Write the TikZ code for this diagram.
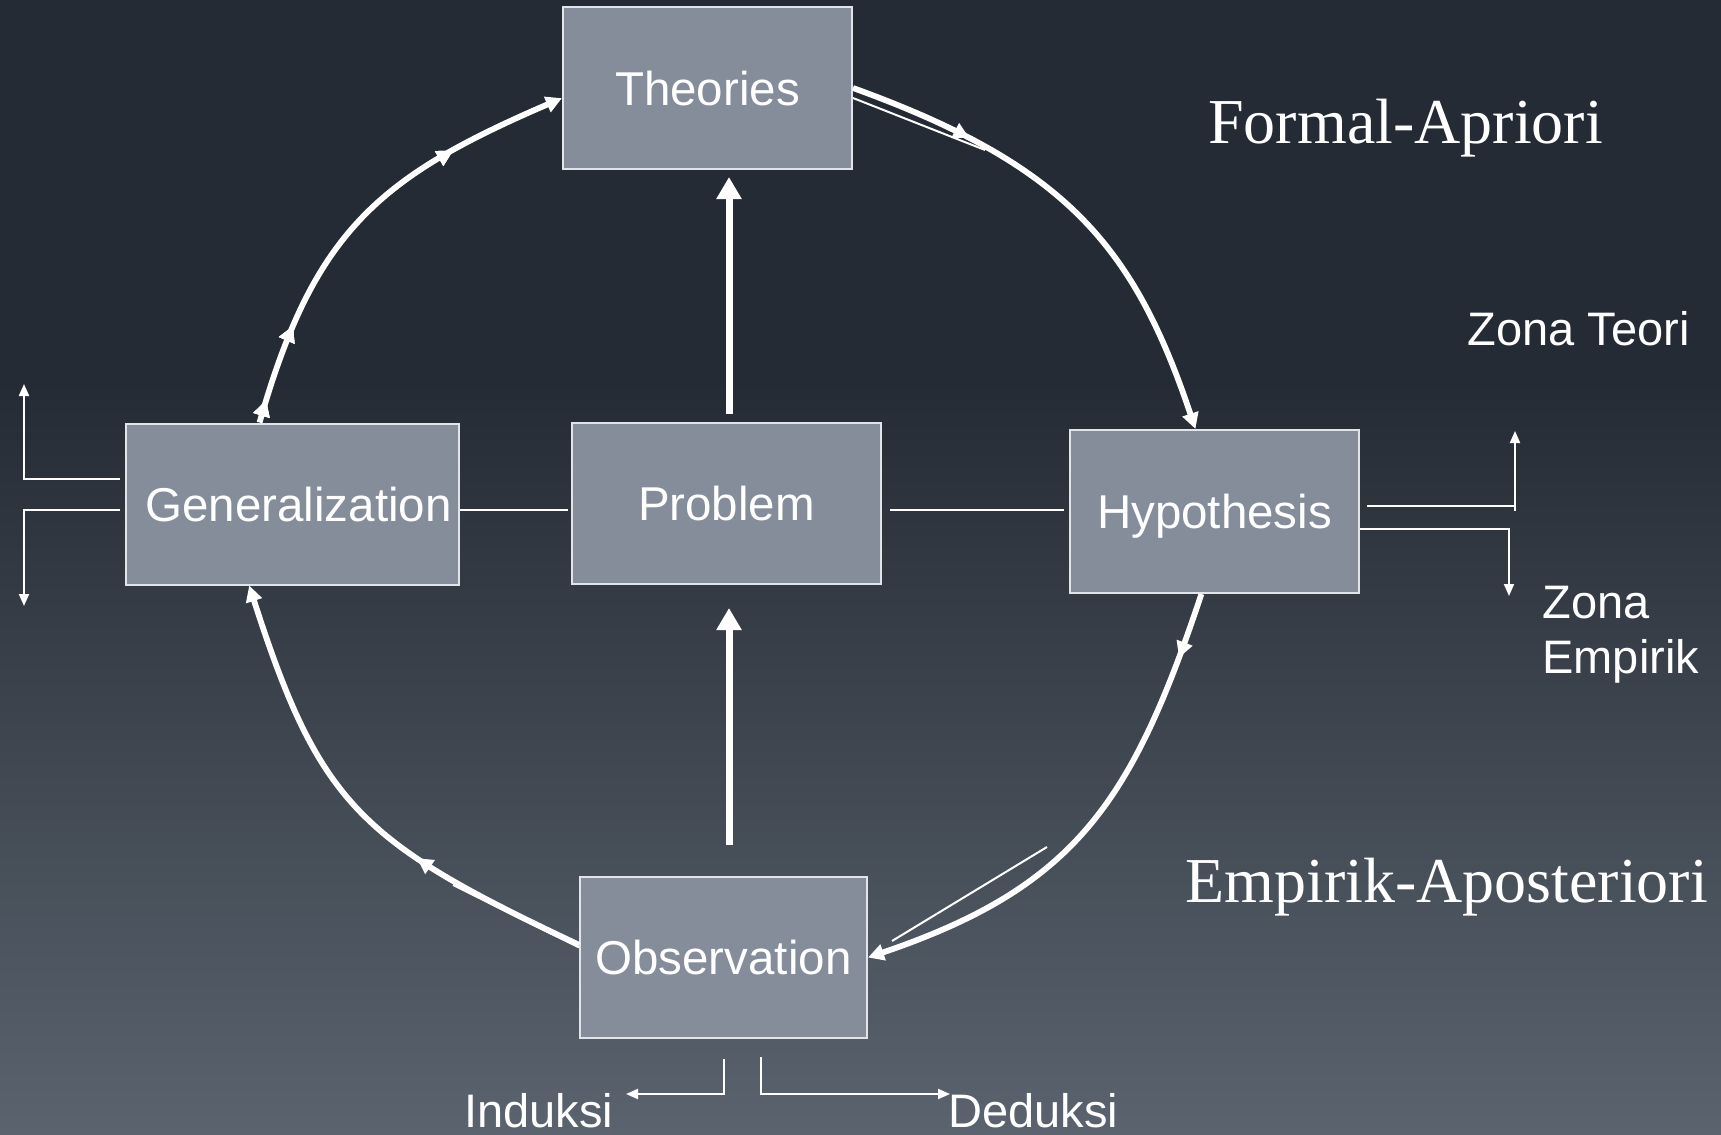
\documentclass[tikz,border=0pt]{standalone}
\usepackage{fontspec}
\setmainfont{Liberation Serif}
\newfontfamily\arialish{Liberation Sans}
\usetikzlibrary{arrows.meta,decorations.markings,calc}

\definecolor{bgtop}{RGB}{37,43,52}
\definecolor{bgbot}{RGB}{90,99,110}
\definecolor{boxfill}{RGB}{133,141,154}
\definecolor{boxline}{RGB}{225,228,233}

\begin{document}
\begin{tikzpicture}[x=0.5pt,y=-0.5pt,
  stagebox/.style={draw=boxline, line width=1pt, fill=boxfill, text=white,
    font=\arialish\fontsize{23.75pt}{28pt}\selectfont,
    inner sep=0pt, text height=17pt, text depth=0pt, anchor=center},
  loopedge/.style={draw=white, line width=2.9pt, -{Triangle[length=8pt,width=8pt]}},
  fatarrow/.style={draw=white, line width=3.5pt, -{Triangle[length=11pt,width=12pt]}},
  link/.style={draw=white, line width=1pt},
  tinyarrow/.style={draw=white, line width=1pt, -{Triangle[length=6pt,width=5pt]}},
  sanslabel/.style={text=white, inner sep=0pt, anchor=base west,
    font=\arialish\fontsize{23.5pt}{28pt}\selectfont},
  seriflabel/.style={text=white, inner sep=0pt, anchor=base west,
    font=\fontsize{32pt}{38pt}\selectfont},
  tipat/.style={postaction={decorate}, decoration={markings,
    mark=at position #1 with {\arrow{Triangle[length=8pt,width=8pt]}}}}
]
\useasboundingbox (0,0) rectangle (1721,1135);

% backdrop: dark slate, lightening towards the bottom
\fill[bgtop] (0,0) rectangle (1721,1135);
\shade[top color=bgtop, bottom color=bgbot] (0,380) rectangle (1721,1135);

% the five stages
\node[stagebox, minimum width=144.5pt, minimum height=81pt]   (th) at (707.5,88)    {Theories};
\node[stagebox, minimum width=166.5pt, minimum height=80.5pt] (ge) at (292.5,504)   {\hspace*{6pt}Generalization};
\node[stagebox, minimum width=154.5pt, minimum height=80.5pt] (pr) at (726.5,503.5) {Problem};
\node[stagebox, minimum width=144.5pt, minimum height=81.5pt] (hy) at (1214.5,511.5){Hypothesis};
\node[stagebox, minimum width=143.5pt, minimum height=80.5pt] (ob) at (723.5,957.5) {Observation};

% the research cycle
\draw[loopedge, tipat=0.25] (th.east) .. controls (1066,165) and (1134,246) .. (hy.103);
\draw[loopedge, tipat=0.13] (hy.261) .. controls (1132,802) and (1076,887) .. (ob.east);
\draw[loopedge, tipat=0.36] (ob.175) .. controls (361,842) and (320,806) .. (ge.242);
\draw[loopedge, tipat=0.05, tipat=0.22, tipat=0.74] (ge.112) .. controls (314,231) and (379,177) .. (th.184);

% thin strokes running beside the arcs
\coordinate (s1) at (985,150);
\coordinate (s2a) at (1047,847);
\coordinate (s2b) at (892,941);
\coordinate (s3) at (453,885);
\draw[link] ([yshift=-5pt]th.east) -- (s1);
\draw[link] (s2a) -- (s2b);
\draw[link] (ob.176) -- (s3);

% problem in the middle
\draw[fatarrow, shorten <=4pt, shorten >=3.5pt] ([xshift=1.25pt]pr.north) -- ([xshift=1.25pt]pr.north |- th.south);
\draw[fatarrow, shorten <=15.5pt, shorten >=11.5pt] ([xshift=2.75pt]ob.north) -- ([xshift=2.75pt]ob.north |- pr.south);
\draw[link, shorten >=1.5pt] ([yshift=-3pt]ge.east) -- ([yshift=-3pt]ge.east -| pr.west);
\draw[link, shorten <=4pt, shorten >=2.5pt] ([yshift=-3.25pt]pr.east) -- ([yshift=-3.25pt]pr.east -| hy.west);

% side branches of generalization
\coordinate (gup) at (24,384);
\coordinate (gdn) at (24,606);
\draw[tinyarrow] ([xshift=-2.5pt,yshift=12.5pt]ge.west) -| (gup);
\draw[tinyarrow] ([xshift=-2.5pt,yshift=-3pt]ge.west) -| (gdn);

% side branches of hypothesis
\coordinate (hup) at (1515,431);
\coordinate (hdn) at (1509,596);
\draw[tinyarrow] ([xshift=3.5pt,yshift=2.75pt]hy.east) -| (hup);
\draw[link] ([yshift=2.75pt]hy.east -| hup) -- ++(0,-2.5pt);
\draw[tinyarrow] ([yshift=-8.75pt]hy.east) -| (hdn);

% branches below observation
\coordinate (ind) at (626,1094);
\coordinate (ded) at (950,1094);
\draw[tinyarrow] ([yshift=-10pt]ob.south) |- (ind);
\draw[tinyarrow] ([xshift=18.75pt,yshift=-9pt]ob.south) |- (ded);

% labels
\node[sanslabel] (induksi) at (464,1127) {Induksi};
\node[sanslabel] (deduksi) at (948,1127) {Deduksi};
\node[sanslabel] (zteori) at (1467,345) {Zona Teori};
\node[sanslabel] (zona) at (1542,618) {Zona};
\node[sanslabel] (empirik) at (1542,673) {Empirik};
\node[seriflabel] (formal) at (1208,143) {Formal-Apriori};
\node[seriflabel] (aposteriori) at (1185,902) {Empirik-Aposteriori};
\end{tikzpicture}
\end{document}
